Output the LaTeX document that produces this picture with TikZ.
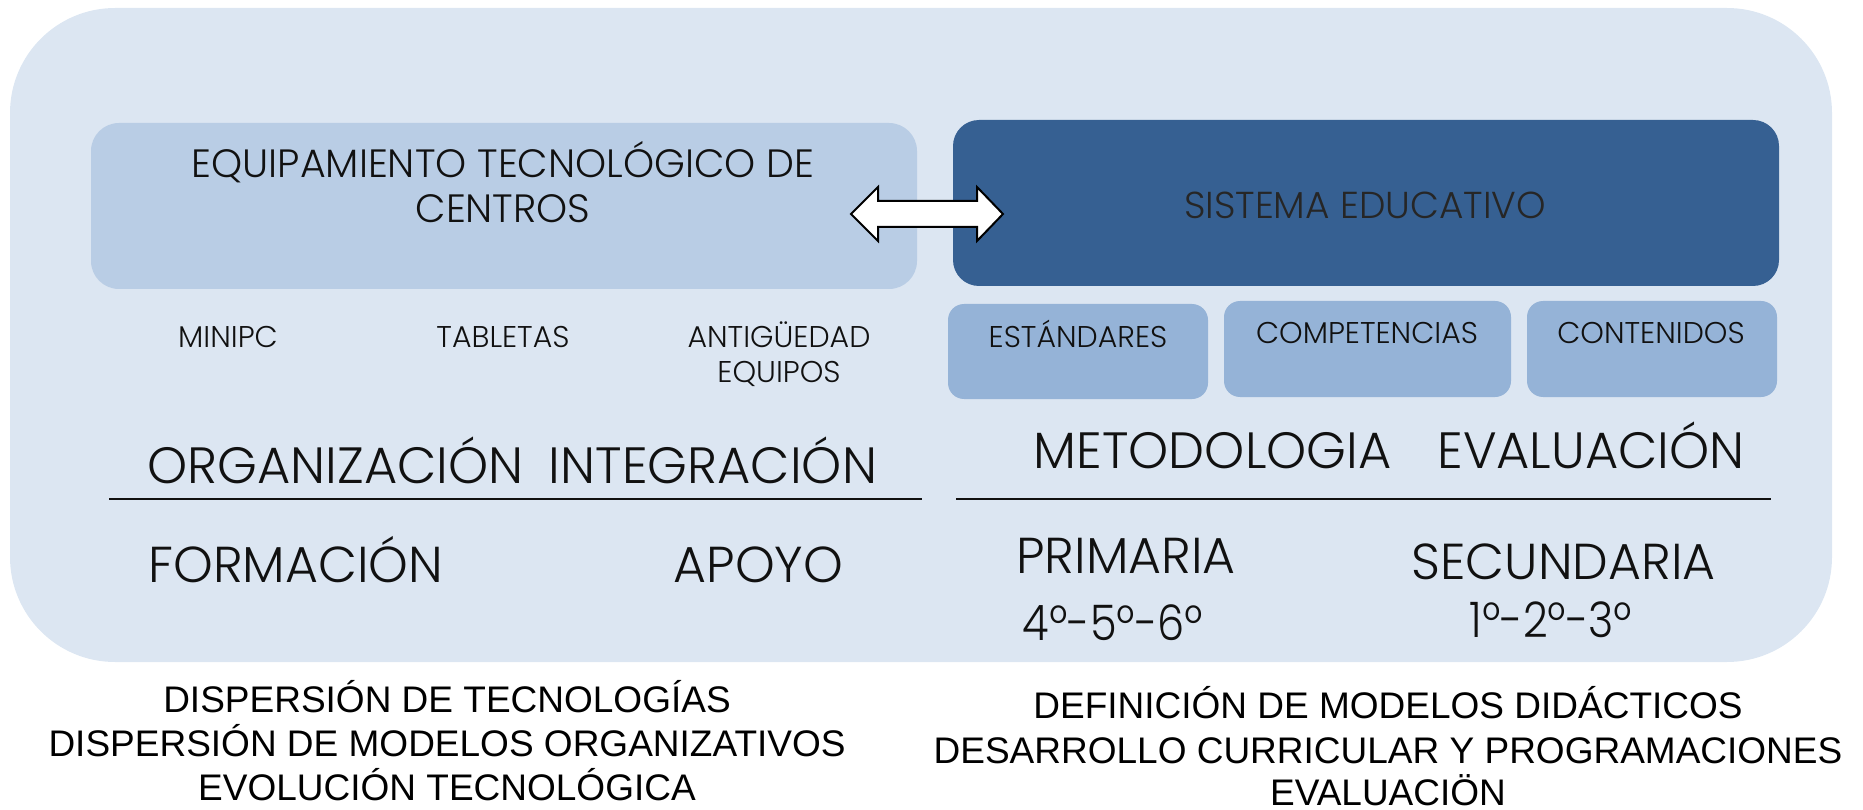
\documentclass[tikz,border=0pt]{standalone}
\usepackage{fontspec}
\IfFontExistsTF{Poppins Light}
  {\newfontfamily\cg{Poppins Light}\newfontfamily\cgn{Poppins Light}[FakeStretch=0.88]}
  {\newfontfamily\cg{Poppins}\newfontfamily\cgn{Poppins}[FakeStretch=0.88]}
\newfontfamily\ar{Liberation Sans}
\definecolor{outerbg}{HTML}{DCE6F2}
\definecolor{lightbox}{HTML}{B9CDE5}
\definecolor{darkbox}{HTML}{366092}
\definecolor{midbox}{HTML}{95B3D7}
\definecolor{ink}{HTML}{111111}
\begin{document}
\begin{tikzpicture}[x=1pt,y=-1pt,
  every node/.style={inner sep=0pt, outer sep=0pt},
  lbl/.style={anchor=base, text=ink},
  big/.style={lbl, font=\cg\fontsize{51}{60}\selectfont},
  mid/.style={lbl, font=\cg\fontsize{50.5}{60}\selectfont},
  grade/.style={lbl, font=\cgn\fontsize{49}{58}\selectfont},
  head/.style={lbl, font=\cg\fontsize{37.5}{45}\selectfont},
  headw/.style={lbl, font=\cg\fontsize{39.5}{47}\selectfont},
  small/.style={lbl, font=\cg\fontsize{30}{36}\selectfont},
  foot/.style={lbl, font=\ar\fontsize{37}{44}\selectfont, text=black},
  rule/.style={line width=2pt, draw=ink}
]
\useasboundingbox (0,0) rectangle (1863,810);
% outer panel
\fill[outerbg, rounded corners=105pt] (10,8) rectangle (1832,662);
% boxes
\fill[lightbox, rounded corners=28pt] (91,123) rectangle (917,289);
\fill[darkbox, rounded corners=26pt] (953,120) rectangle (1779,286);
\fill[midbox, rounded corners=16pt] (948,304) rectangle (1208,399);
\fill[midbox, rounded corners=16pt] (1224,301) rectangle (1511,397);
\fill[midbox, rounded corners=16pt] (1527,301) rectangle (1777,397);
% double arrow
\draw[line width=2pt, fill=white, line join=miter]
  (851,214) -- (878,187) -- (878,201) -- (977,201) -- (977,187) -- (1003,214)
  -- (977,241) -- (977,227) -- (878,227) -- (878,241) -- cycle;
% box texts
\node[headw] (eq1) at (503,178) {EQUIPAMIENTO TECNOLÓGICO DE};
\node[headw] (eq2) at (503,223) {CENTROS};
\node[head, text=black!85] (se) at (1365,219) {SISTEMA EDUCATIVO};
\node[small] (minipc) at (228,347) {MINIPC};
\node[small] (tab) at (503,347) {TABLETAS};
\node[small] (ant1) at (779,347) {ANTIGÜEDAD};
\node[small] (ant2) at (779,382) {EQUIPOS};
\node[small] (est) at (1078,347) {ESTÁNDARES};
\node[small] (comp) at (1367,343) {COMPETENCIAS};
\node[small] (cont) at (1651,343) {CONTENIDOS};
% big labels
\node[big] (org) at (335.5,483) {ORGANIZACIÓN};
\node[big] (integ) at (713,483) {INTEGRACIÓN};
\node[big] (met) at (1212.5,468) {METODOLOGIA};
\node[big] (eval) at (1591,468) {EVALUACIÓN};
\coordinate (r1a) at (109,499);
\coordinate (r1b) at (922,499);
\coordinate (r2a) at (956,499);
\coordinate (r2b) at (1771,499);
\draw[rule] (r1a) -- (r1b);
\draw[rule] (r2a) -- (r2b);
\node[mid] (form) at (296,582) {FORMACIÓN};
\node[mid] (apoyo) at (758.5,582) {APOYO};
\node[mid] (prim) at (1126,573) {PRIMARIA};
\node[mid] (sec) at (1563.5,579) {SECUNDARIA};
\node[grade] (pgr) at (1113,640) {4º-5º-6º};
\node[grade] (sgr) at (1551,637) {1º-2º-3º};
% footers
\node[foot] (fl1) at (447,712) {DISPERSIÓN DE TECNOLOGÍAS};
\node[foot] (fl2) at (447,756) {DISPERSIÓN DE MODELOS ORGANIZATIVOS};
\node[foot] (fl3) at (447,800) {EVOLUCIÓN TECNOLÓGICA};
\node[foot] (fr1) at (1388,718) {DEFINICIÓN DE MODELOS DIDÁCTICOS};
\node[foot] (fr2) at (1388,763) {DESARROLLO CURRICULAR Y PROGRAMACIONES};
\node[foot] (fr3) at (1388,805) {EVALUACIÖN};
\end{tikzpicture}
\end{document}
